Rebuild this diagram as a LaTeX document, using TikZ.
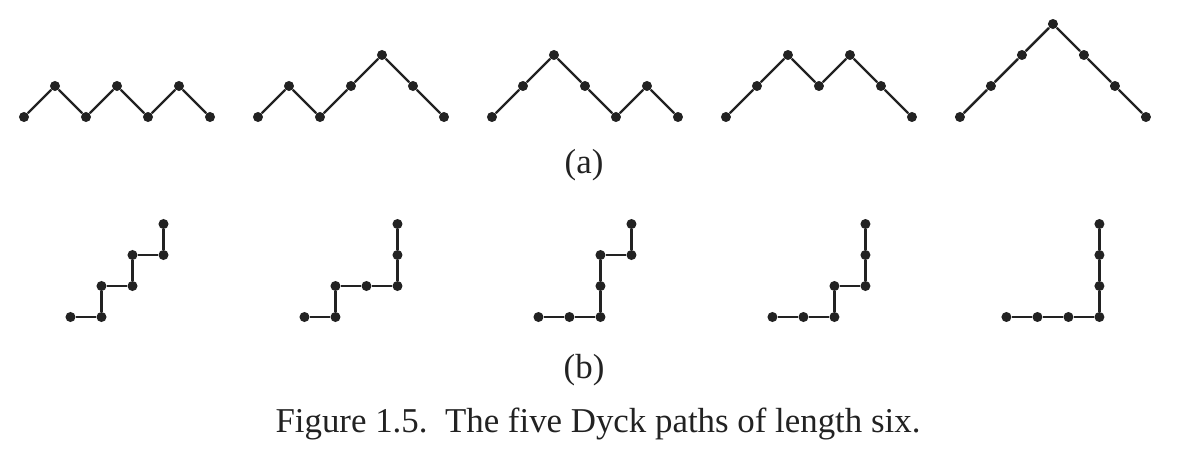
\documentclass[tikz,border=0pt]{standalone}
\usepackage{fontspec}
\setmainfont{Liberation Serif}
\usepackage{tikz}
\definecolor{cink}{RGB}{34,34,34}

\begin{document}
\begin{tikzpicture}[
  x=0.5cm,y=0.5cm,
  dot/.style={circle,fill=cink,inner sep=0pt,minimum size=4.6pt},
  seg/.style={draw=cink,line width=1.1pt},
  lbl/.style={font=\fontsize{16}{19}\selectfont,text=cink,inner sep=0pt}
]
  \useasboundingbox (0,0) rectangle (38.097,14.645);

  % (a) mountain paths, (b) the same paths as lattice paths
  \foreach \p/\hs in {1/{0,1,0,1,0,1,0},2/{0,1,0,1,2,1,0},3/{0,1,2,1,0,1,0},
                      4/{0,1,2,1,2,1,0},5/{0,1,2,3,2,1,0}}{
    \pgfmathsetmacro{\xa}{0.774+7.548*(\p-1)}
    \pgfmathsetmacro{\xb}{\xa+1.5}
    \foreach \h [count=\i from 0] in \hs {
      \node[dot] (m\p-\i) at ({\xa+\i},{10.871+\h}) {};
      \node[dot] (l\p-\i) at ({\xb+(\i+\h)/2},{4.419+(\i-\h)/2}) {};
      \ifnum\i>0
        \pgfmathtruncatemacro{\j}{\i-1}
        \draw[seg] (m\p-\j) -- (m\p-\i);
        \draw[seg] (l\p-\j) -- (l\p-\i);
      \fi
    }
  }

  \node[lbl] (labela) at (18.84,9.32) {(a)};
  \node[lbl] (labelb) at (18.84,2.71) {(b)};
  \node[lbl] (caption) at (19.29,0.98) {Figure 1.5.\ \ The five Dyck paths of length six.};
\end{tikzpicture}
\end{document}
